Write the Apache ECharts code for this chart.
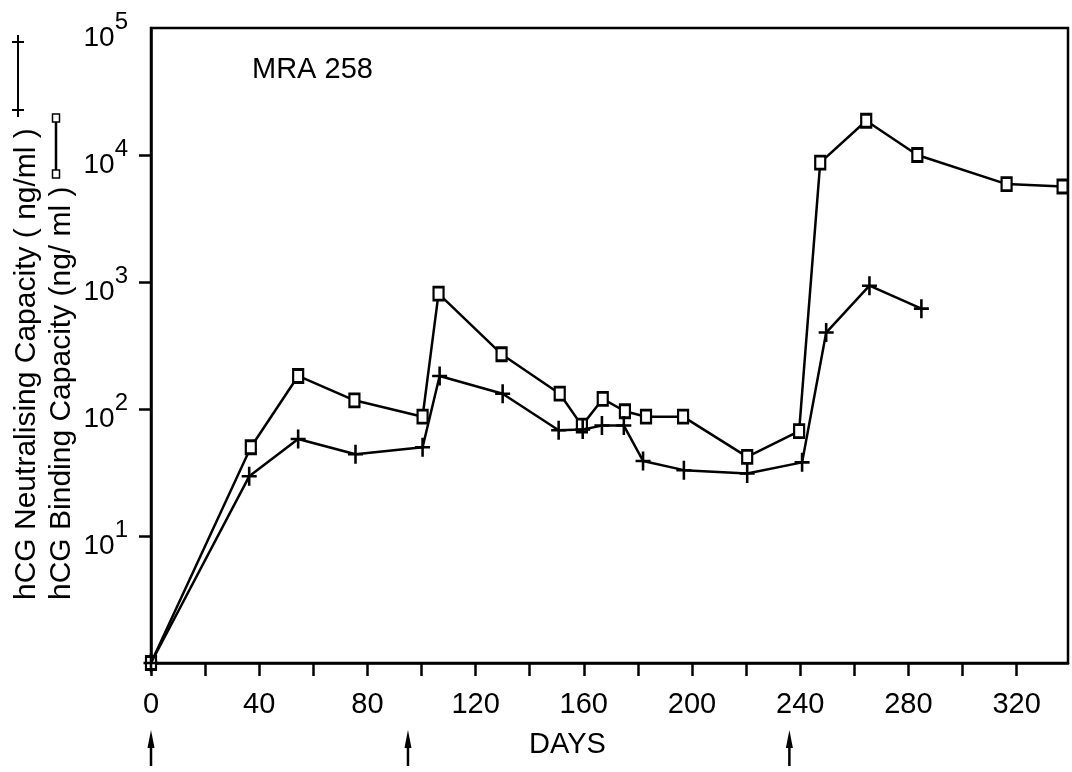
<!DOCTYPE html>
<html>
<head>
<meta charset="utf-8">
<script src="https://cdn.jsdelivr.net/npm/echarts@6/dist/echarts.min.js"></script>
<style>
html,body{margin:0;padding:0;background:#fff;}
#c{width:1072px;height:772px;}
</style>
</head>
<body>
<div id="c"></div>
<script>
// ---- data ----
const bindingDays   = [0, 36.9, 54.4, 75.2, 100.4, 106.3, 129.6, 151.1, 159.3, 167.0, 175.2, 183.0, 196.7, 220.4, 239.6, 247.4, 264.4, 283.3, 316.3, 337.0];
const bindingValues = [1, 50, 182, 117, 87, 810, 270, 132, 74, 120, 96, 87, 87, 42, 67, 8700, 18600, 10000, 5900, 5650];
const neutDays      = [0, 36.3, 54.4, 75.6, 100.4, 106.7, 130.0, 150.7, 159.6, 166.7, 174.8, 181.9, 197.0, 220.4, 240.7, 249.6, 265.6, 284.8];
const neutValues    = [1, 29.5, 58, 44, 50, 182, 132, 68, 69, 74, 74, 39, 33, 31, 38, 400, 935, 617];
const xTickValues   = [0, 20, 40, 60, 80, 100, 120, 140, 160, 180, 200, 220, 240, 260, 280, 300, 320];
const xLabelValues  = [0, 40, 80, 120, 160, 200, 240, 280, 320];
const yTickValues   = [1, 10, 100, 1000, 10000, 100000];
const injectionDays = [0, 95, 236];
const chartTitle    = 'MRA 258';
const xTitle        = 'DAYS';
const yTitle1       = 'hCG Neutralising Capacity ( ng/ml )';
const yTitle2       = 'hCG Binding Capacity (ng/ ml )';

const FONT = "'Liberation Sans', Arial, sans-serif";
const pair = (xs, ys) => xs.map((x, i) => [x, ys[i]]);
const plusPath = 'path://M5.8,0H8.2V7.8H14V10.2H8.2V18H5.8V10.2H0V7.8H5.8Z';

const chart = echarts.init(document.getElementById('c'), null, {renderer: 'canvas'});
chart.setOption({
  backgroundColor: '#fff',
  animation: false,
  grid: {left: 151, right: 4, top: 28, bottom: 109, show: true, borderColor: '#000', borderWidth: 2.5, backgroundColor: 'transparent'},
  xAxis: {
    type: 'value', min: 0, max: 339,
    axisLine: {lineStyle: {color: '#000', width: 2.5}},
    axisTick: {length: 13, lineStyle: {color: '#000', width: 2.5}, customValues: xTickValues},
    axisLabel: {color: '#000', fontSize: 29, fontFamily: FONT, margin: 27, customValues: xLabelValues},
    splitLine: {show: false}
  },
  yAxis: {
    type: 'log', logBase: 10, min: 1, max: 100000,
    axisLine: {lineStyle: {color: '#000', width: 2.5}},
    axisTick: {length: 12, lineStyle: {color: '#000', width: 2.5}, customValues: yTickValues.slice(1, -1)},
    axisLabel: {
      customValues: yTickValues.slice(1),
      margin: 23,
      padding: [20, 0, 0, 0],
      formatter: v => {
        const e = Math.round(Math.log10(v));
        return e === 0 ? '' : '{b|10}{s|' + e + '}';
      },
      rich: {
        b: {fontSize: 28, fontFamily: FONT, color: '#000', lineHeight: 56, verticalAlign: 'middle'},
        s: {fontSize: 24, fontFamily: FONT, color: '#000', lineHeight: 20, verticalAlign: 'top'}
      }
    },
    splitLine: {show: false}
  },
  series: [
    {
      name: 'binding', type: 'line', data: pair(bindingDays, bindingValues),
      lineStyle: {color: '#000', width: 2.5},
      symbol: 'rect', symbolSize: [10, 13],
      itemStyle: {color: '#fff', borderColor: '#000', borderWidth: 2.5},
      z: 3
    },
    {
      name: 'neutralising', type: 'line', data: pair(neutDays, neutValues),
      lineStyle: {color: '#000', width: 2.5},
      symbol: plusPath, symbolSize: [15, 19],
      itemStyle: {color: '#000', borderWidth: 0},
      z: 4
    }
  ]
});

// decorative texts and legend glyphs
const graphics = [
  {type: 'text', left: 252, top: 55, style: {text: chartTitle, font: '29px ' + FONT, fill: '#000'}},
  {type: 'text', left: 529, top: 730, style: {text: xTitle, font: '29px ' + FONT, fill: '#000'}},
  {type: 'text', x: 27, y: 600, rotation: Math.PI / 2,
   style: {text: yTitle1, font: '30px ' + FONT, fill: '#000', textAlign: 'left', textVerticalAlign: 'middle'}},
  {type: 'text', x: 62, y: 600, rotation: Math.PI / 2,
   style: {text: yTitle2, font: '30px ' + FONT, fill: '#000', textAlign: 'left', textVerticalAlign: 'middle'}},
  // + ---- + glyph
  {type: 'line', shape: {x1: 18, y1: 42, x2: 18, y2: 110}, style: {stroke: '#000', lineWidth: 2}},
  {type: 'line', shape: {x1: 12, y1: 110, x2: 24, y2: 110}, style: {stroke: '#000', lineWidth: 2}},
  {type: 'line', shape: {x1: 12, y1: 42, x2: 24, y2: 42}, style: {stroke: '#000', lineWidth: 2}},
  {type: 'line', shape: {x1: 18, y1: 103, x2: 18, y2: 117}, style: {stroke: '#000', lineWidth: 2}},
  {type: 'line', shape: {x1: 18, y1: 35, x2: 18, y2: 49}, style: {stroke: '#000', lineWidth: 2}},
  // square ---- square glyph
  {type: 'line', shape: {x1: 56, y1: 120, x2: 56, y2: 173}, style: {stroke: '#000', lineWidth: 2.5}},
  {type: 'rect', shape: {x: 52.5, y: 114, width: 7, height: 8}, style: {fill: '#fff', stroke: '#000', lineWidth: 1.5}},
  {type: 'rect', shape: {x: 52.5, y: 170, width: 7, height: 8}, style: {fill: '#fff', stroke: '#000', lineWidth: 1.5}}
];
// injection arrows placed through the x scale
injectionDays.forEach(d => {
  const px = chart.convertToPixel({gridIndex: 0}, [d, 1])[0];
  graphics.push({type: 'polygon', shape: {points: [[px, 730], [px - 3.5, 748], [px + 3.5, 748]]}, style: {fill: '#000'}});
  graphics.push({type: 'line', shape: {x1: px, y1: 740, x2: px, y2: 766}, style: {stroke: '#000', lineWidth: 2.5}});
});
chart.setOption({graphic: graphics});
</script>
</body>
</html>
